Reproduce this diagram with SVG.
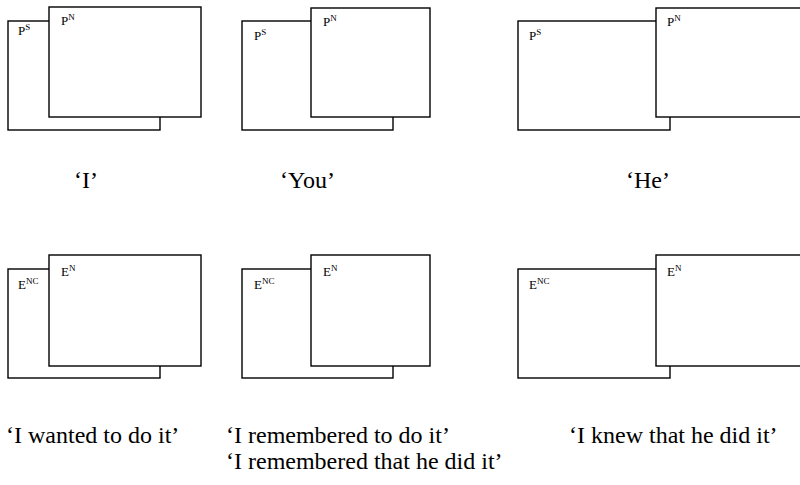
<svg xmlns="http://www.w3.org/2000/svg" width="800" height="485" viewBox="0 0 800 485">
<style>
.back{fill:#fff;stroke:#000;stroke-width:1.4}
.front{fill:#fff;stroke:#000;stroke-width:1.4}
.lab{font-family:"Liberation Serif","Times New Roman",serif;font-size:13px;fill:#000}
.sup{font-size:9px}
.cap{font-family:"Liberation Serif","Times New Roman",serif;font-size:24px;fill:#000}
</style>
<rect width="800" height="485" fill="#fff"/>
<g id="panel-I">
<rect class="back" x="8" y="21" width="152" height="109"/>
<rect class="front" x="49" y="7" width="152" height="110"/>
<text class="lab" x="18" y="35">P<tspan class="sup" dy="-5">S</tspan></text>
<text class="lab" x="61" y="25">P<tspan class="sup" dy="-5">N</tspan></text>
</g>
<g id="panel-You">
<rect class="back" x="242" y="21" width="151" height="109"/>
<rect class="front" x="311" y="8" width="119" height="109"/>
<text class="lab" x="254" y="40">P<tspan class="sup" dy="-5">S</tspan></text>
<text class="lab" x="323" y="26">P<tspan class="sup" dy="-5">N</tspan></text>
</g>
<g id="panel-He">
<rect class="back" x="518" y="21" width="152" height="109"/>
<rect class="front" x="656" y="8" width="150" height="109"/>
<text class="lab" x="529" y="40">P<tspan class="sup" dy="-5">S</tspan></text>
<text class="lab" x="667" y="26">P<tspan class="sup" dy="-5">N</tspan></text>
</g>
<g id="panel-wanted">
<rect class="back" x="8" y="269" width="152" height="109"/>
<rect class="front" x="49" y="255" width="152" height="111"/>
<text class="lab" x="18" y="289">E<tspan class="sup" dy="-5">NC</tspan></text>
<text class="lab" x="61" y="276">E<tspan class="sup" dy="-5">N</tspan></text>
</g>
<g id="panel-remembered">
<rect class="back" x="242" y="269" width="151" height="109"/>
<rect class="front" x="311" y="255" width="119" height="111"/>
<text class="lab" x="254" y="289">E<tspan class="sup" dy="-5">NC</tspan></text>
<text class="lab" x="323" y="276">E<tspan class="sup" dy="-5">N</tspan></text>
</g>
<g id="panel-knew">
<rect class="back" x="518" y="269" width="152" height="109"/>
<rect class="front" x="656" y="255" width="150" height="111"/>
<text class="lab" x="529" y="289">E<tspan class="sup" dy="-5">NC</tspan></text>
<text class="lab" x="667" y="276">E<tspan class="sup" dy="-5">N</tspan></text>
</g>
<g id="connectors"/>
<g id="captions">
<text class="cap" x="74" y="188">‘I’</text>
<text class="cap" x="280" y="188">‘You’</text>
<text class="cap" x="626" y="188">‘He’</text>
<text class="cap" x="6" y="443">‘I wanted to do it’</text>
<text class="cap" x="226" y="443">‘I remembered to do it’</text>
<text class="cap" x="226" y="469">‘I remembered that he did it’</text>
<text class="cap" x="569" y="443">‘I knew that he did it’</text>
</g>
</svg>
